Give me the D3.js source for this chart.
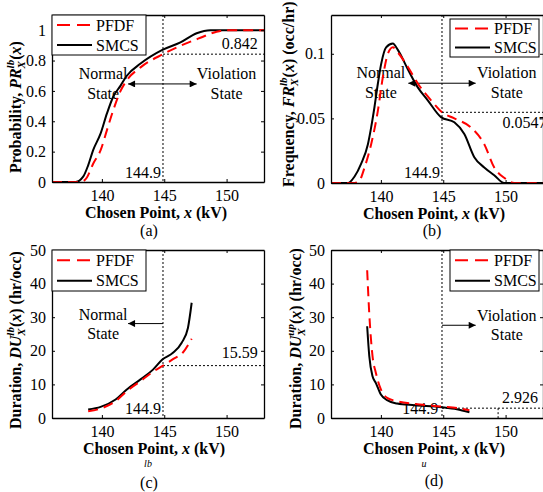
<!DOCTYPE html>
<meta charset="utf-8">
<title>PFDF vs SMCS</title>
<style>
body { margin: 0; background: #fff; }
</style>
<body>
<script src="https://cdn.jsdelivr.net/npm/d3@7"></script>
<script>
'use strict';

// shared x axis (kV)
const xDomainKV = [136, 153];
const xTicks = [140, 145, 150];
const probTicks = [0, 0.2, 0.4, 0.6, 0.8, 1];
const freqTicks = [0, 0.05, 0.1];
const durTicks = [0, 10, 20, 30, 40, 50];
const seriesNames = ['PFDF', 'SMCS'];
const threshold = 144.9;

// (a) probability
const probSmcsX = [136, 137.9, 138.5, 138.9, 139.3, 139.9, 140.4, 140.9, 141.5, 142.0, 143.1, 144.85, 146.3, 147.6, 148.7, 153];
const probSmcsY = [0, 0, 0.035, 0.11, 0.21, 0.32, 0.45, 0.56, 0.635, 0.70, 0.78, 0.87, 0.92, 0.98, 1.0, 1.0];
const probPfdfX = [136, 138.3, 138.8, 139.3, 139.9, 140.4, 140.9, 141.5, 142.0, 143.1, 144.9, 146.3, 147.9, 149.2, 150, 153];
const probPfdfY = [0, 0, 0.03, 0.12, 0.21, 0.34, 0.47, 0.60, 0.67, 0.755, 0.842, 0.897, 0.95, 0.99, 1, 1];

// (b) frequency
const freqSmcsX = [136, 137.36, 137.89, 138.42, 138.96, 139.22, 139.49, 139.76, 140.02, 140.42, 140.96, 141.36, 142.16, 142.96, 143.76, 144.82, 145.89, 146.69, 147.49, 148.29, 149.09, 149.89, 153];
const freqSmcsY = [0, 0, 0.005, 0.015, 0.030, 0.043, 0.059, 0.077, 0.092, 0.105, 0.108, 0.103, 0.088, 0.074, 0.064, 0.051, 0.047, 0.038, 0.020, 0.012, 0.006, 0, 0];
const freqPfdfX = [136, 137.89, 138.29, 138.69, 139.22, 139.76, 140.16, 140.56, 140.96, 141.36, 142.16, 142.96, 144.02, 144.9, 145.89, 147.22, 148.29, 149.09, 149.89, 150.69, 153];
const freqPfdfY = [0, 0, 0.002, 0.012, 0.030, 0.056, 0.082, 0.100, 0.105, 0.101, 0.090, 0.077, 0.064, 0.0547, 0.050, 0.043, 0.030, 0.012, 0.004, 0, 0];

// (c) duration, lower bound
const durLbSmcsX = [138.9, 139.9, 141.1, 142.0, 143.1, 144.1, 144.85, 145.7, 146.4, 146.9, 147.2];
const durLbSmcsY = [2.5, 3.3, 5.5, 8.5, 11.5, 14.4, 17.4, 19.4, 22.4, 26.8, 34.3];
const durLbPfdfX = [138.9, 139.9, 141.1, 142.0, 143.1, 144.1, 144.9, 145.7, 146.5, 147.2];
const durLbPfdfY = [2.0, 2.8, 5.0, 8.0, 11.0, 13.8, 15.59, 17.5, 19.5, 23.6];

// (d) duration, upper bound
const durUpPfdfX = [138.9, 139.07, 139.33, 139.6, 140.0, 140.5, 141.3, 142.7, 144.9, 146.1, 147.1];
const durUpPfdfY = [44, 31, 18.4, 13.4, 8.5, 6.0, 5.0, 4.2, 3.4, 3.0, 2.3];
const durUpSmcsX = [138.9, 139.07, 139.33, 139.6, 140.0, 140.5, 141.3, 142.7, 144.9, 146.1, 147.1];
const durUpSmcsY = [27.3, 18.4, 12.4, 10.4, 7.0, 5.3, 4.3, 3.8, 3.2, 2.6, 1.7];

const FONT = "'Liberation Serif'";
const W = 543, H = 492;
const svg = d3.select('body').append('svg').attr('width', W).attr('height', H)
  .style('font-family', FONT);
svg.append('rect').attr('width', W).attr('height', H).attr('fill', '#fff');

const panels = [
  {
    tag: '(a)', left: 52, top: 15, right: 264, bottom: 182, yDomain: [0, 1.1], yTicks: probTicks,
    pfdf: [probPfdfX, probPfdfY], smcs: [probSmcsX, probSmcsY],
    ylab: {x: 21, y: 173, parts: [['Probability, ', ''], ['PR', 'i'], ['X', 'sub'], ['lb', 'sup'], ['(', ''], ['x', 'i'], [')', '']]},
    xlabX: 156, capX: 149, capY: 236,
    legend: {x0: 52, y0: 15, x1: 146, y1: 55},
    level: 0.842, levelText: ['0.842', 152.5, 0.876, 'end'],
    thrText: [144.74, 0.026, 'end'],
    states: [['Normal', 140.1], ['Violation', 150.0]], stateY: [0.679, 0.547],
    arrow: {from: 142.1, to: 147.6, y: 0.646, both: true}
  },
  {
    tag: '(b)', left: 331, top: 15, right: 543, bottom: 183, yDomain: [0, 0.13], yTicks: freqTicks,
    pfdf: [freqPfdfX, freqPfdfY], smcs: [freqSmcsX, freqSmcsY],
    ylab: {x: 294, y: 187, parts: [['Frequency, ', ''], ['FR', 'i'], ['X', 'sub'], ['lb', 'sup'], ['(', ''], ['x', 'i'], [') (occ/hr)', '']]},
    xlabX: 434, capX: 432, capY: 236,
    legend: {x0: 450, y0: 19, x1: 539, y1: 57},
    level: 0.0547, levelText: ['0.0547', 149.76, 0.0426, 'start'],
    thrText: [144.74, 0.0039, 'end'],
    states: [['Normal', 140.0], ['Violation', 150.1]], stateY: [0.081, 0.0656],
    arrow: {from: 142.2, to: 147.6, y: 0.0772, both: true}
  },
  {
    tag: '(c)', left: 52, top: 250, right: 264, bottom: 418, yDomain: [0, 50], yTicks: durTicks,
    pfdf: [durLbPfdfX, durLbPfdfY], smcs: [durLbSmcsX, durLbSmcsY],
    ylab: {x: 21, y: 429, parts: [['Duration, ', ''], ['DU', 'i'], ['X', 'sub'], ['lb', 'sup'], ['(', ''], ['x', 'i'], [') (hr/occ)', '']]},
    xlabX: 154, capX: 149, capY: 488, sub: ['lb', 148, 467],
    legend: {x0: 52, y0: 250, x1: 146, y1: 291},
    level: 15.59, levelText: ['15.59', 152.5, 17.9, 'end'],
    thrText: [144.74, 1.2, 'end'],
    states: [['Normal', 140.1]], stateY: [29.2, 23.4],
    arrow: {from: threshold, to: 142.1, y: 28.1, both: false}
  },
  {
    tag: '(d)', left: 331, top: 250, right: 543, bottom: 418, yDomain: [0, 50], yTicks: durTicks,
    pfdf: [durUpPfdfX, durUpPfdfY], smcs: [durUpSmcsX, durUpSmcsY],
    ylab: {x: 301, y: 429, parts: [['Duration, ', ''], ['DU', 'i'], ['X', 'sub'], ['up', 'sup'], ['(', ''], ['x', 'i'], [') (hr/occ)', '']]},
    xlabX: 434, capX: 434, capY: 486, sub: ['u', 424, 467],
    legend: {x0: 450, y0: 250, x1: 539, y1: 291},
    level: 2.926, levelText: ['2.926', 152.6, 4.6, 'end'], stub: 149.4,
    thrText: [144.6, 1.2, 'end'],
    states: [['Violation', 150.1]], stateY: [28.9, 23.2],
    arrow: {from: threshold, to: 147.6, y: 27.6, both: false}
  }
];

// arrow head marker
const defs = svg.append('defs');
defs.append('marker').attr('id', 'head')
  .attr('viewBox', '0 0 10 10').attr('refX', 10).attr('refY', 5)
  .attr('markerWidth', 9).attr('markerHeight', 7).attr('markerUnits', 'userSpaceOnUse')
  .attr('orient', 'auto-start-reverse')
  .append('path').attr('d', 'M0,0L10,5L0,10Z').attr('fill', '#000');

function styleAxis(g) {
  g.attr('font-family', null).style('font-family', FONT).attr('font-size', 16);
  g.select('.domain').attr('stroke', '#000').attr('stroke-width', 1.3);
  g.selectAll('.tick line').attr('stroke', '#000');
  g.selectAll('.tick text').attr('fill', '#000');
}

panels.forEach((p, i) => {
  const g = svg.append('g');
  const x = d3.scaleLinear().domain(xDomainKV).range([p.left, p.right]);
  const y = d3.scaleLinear().domain(p.yDomain).range([p.bottom, p.top]);

  defs.append('clipPath').attr('id', 'clip' + i)
    .append('rect').attr('x', p.left).attr('y', p.top)
    .attr('width', p.right - p.left).attr('height', p.bottom - p.top);

  // annotations (under the curves)
  const ann = g.append('g').attr('stroke', '#000').attr('stroke-width', 1).attr('stroke-dasharray', '2,2');
  ann.append('line').attr('x1', x(threshold)).attr('x2', x(threshold)).attr('y1', y.range()[1]).attr('y2', y.range()[0]);
  ann.append('line').attr('x1', x(threshold)).attr('x2', p.right).attr('y1', y(p.level)).attr('y2', y(p.level));
  if (p.stub) ann.append('line').attr('x1', x(p.stub)).attr('x2', x(p.stub)).attr('y1', y(p.level)).attr('y2', p.bottom);

  const txt = g.append('g').attr('font-size', 16).attr('fill', '#000');
  txt.append('text').attr('x', x(p.levelText[1])).attr('y', y(p.levelText[2]))
    .attr('text-anchor', p.levelText[3]).text(p.levelText[0]);
  txt.append('text').attr('x', x(p.thrText[0])).attr('y', y(p.thrText[1]))
    .attr('text-anchor', p.thrText[2]).text(String(threshold));
  p.states.forEach(s => {
    txt.append('text').attr('x', x(s[1])).attr('y', y(p.stateY[0])).attr('text-anchor', 'middle').text(s[0]);
    txt.append('text').attr('x', x(s[1])).attr('y', y(p.stateY[1])).attr('text-anchor', 'middle').text('State');
  });
  const ar = g.append('line')
    .attr('x1', x(p.arrow.from)).attr('x2', x(p.arrow.to))
    .attr('y1', y(p.arrow.y)).attr('y2', y(p.arrow.y))
    .attr('stroke', '#000').attr('stroke-width', 1)
    .attr('marker-end', 'url(#head)');
  if (p.arrow.both) ar.attr('marker-start', 'url(#head)');

  // curves
  const line = d3.line().x(d => x(d[0])).y(d => y(d[1])).curve(d3.curveMonotoneX);
  const curves = g.append('g').attr('clip-path', `url(#clip${i})`).attr('fill', 'none').attr('stroke-width', 2);
  curves.append('path').attr('d', line(d3.zip(p.smcs[0], p.smcs[1]))).attr('stroke', '#000');
  curves.append('path').attr('d', line(d3.zip(p.pfdf[0], p.pfdf[1])))
    .attr('stroke', '#ff0000').attr('stroke-dasharray', '10,6');

  // axes, ticks inward on all four sides
  g.append('g').attr('transform', `translate(0,${p.bottom})`)
    .call(d3.axisBottom(x).tickValues(xTicks).tickSize(-3).tickSizeOuter(0).tickPadding(8)).call(styleAxis);
  g.append('g').attr('transform', `translate(0,${p.top})`)
    .call(d3.axisTop(x).tickValues(xTicks).tickSize(-3).tickSizeOuter(0).tickFormat('')).call(styleAxis);
  g.append('g').attr('transform', `translate(${p.left},0)`)
    .call(d3.axisLeft(y).tickValues(p.yTicks).tickSize(-3).tickSizeOuter(0).tickPadding(6).tickFormat(d => String(d))).call(styleAxis);
  g.append('g').attr('transform', `translate(${p.right},0)`)
    .call(d3.axisRight(y).tickValues(p.yTicks).tickSize(-3).tickSizeOuter(0).tickFormat('')).call(styleAxis);

  // legend
  const L = p.legend;
  const lg = g.append('g');
  lg.append('rect').attr('x', L.x0).attr('y', L.y0).attr('width', L.x1 - L.x0).attr('height', L.y1 - L.y0)
    .attr('fill', '#fff').attr('stroke', '#000').attr('stroke-width', 1);
  const rowH = (L.y1 - L.y0) / 2;
  seriesNames.forEach((name, k) => {
    const cy = L.y0 + rowH * (k + 0.5);
    lg.append('line').attr('x1', L.x0 + 5).attr('x2', L.x0 + 40).attr('y1', cy).attr('y2', cy)
      .attr('stroke', k === 0 ? '#ff0000' : '#000').attr('stroke-width', 2)
      .attr('stroke-dasharray', k === 0 ? '13,7' : null);
    lg.append('text').attr('x', L.x0 + 44).attr('y', cy + 5.5).attr('font-size', 16).text(name);
  });

  // x label
  const xl = g.append('text').attr('x', p.xlabX).attr('y', p.bottom + 36)
    .attr('text-anchor', 'middle').attr('font-size', 16).attr('font-weight', 'bold');
  xl.append('tspan').text('Chosen Point, ');
  xl.append('tspan').attr('font-style', 'italic').text('x');
  xl.append('tspan').text(' (kV)');
  if (p.sub) {
    g.append('text').attr('x', p.sub[1]).attr('y', p.sub[2]).attr('text-anchor', 'middle')
      .attr('font-size', 10).attr('font-style', 'italic').text(p.sub[0]);
  }

  // y label, rotated, with stacked sub/superscript
  const yl = g.append('text').attr('transform', `translate(${p.ylab.x},${p.ylab.y}) rotate(-90)`)
    .attr('font-size', 16).attr('font-weight', 'bold');
  let subW = 0, shift = 0;
  p.ylab.parts.forEach(([t, kind]) => {
    const ts = yl.append('tspan').text(t);
    if (kind === 'i') ts.attr('font-style', 'italic');
    if (kind === 'sub') {
      ts.attr('font-size', 11).attr('font-style', 'italic').attr('dy', 4);
      shift = 4;
      subW = ts.node().getComputedTextLength();
    } else if (kind === 'sup') {
      ts.attr('font-size', 11).attr('font-style', 'italic').attr('dx', -subW).attr('dy', -11);
      shift = -7;
    } else if (shift !== 0) {
      ts.attr('dy', -shift);
      shift = 0;
    }
    if (t === 'x') ts.attr('font-style', 'italic');
  });

  // caption
  g.append('text').attr('x', p.capX).attr('y', p.capY).attr('text-anchor', 'middle')
    .attr('font-size', 16).text(p.tag);
});
</script>
</body>
